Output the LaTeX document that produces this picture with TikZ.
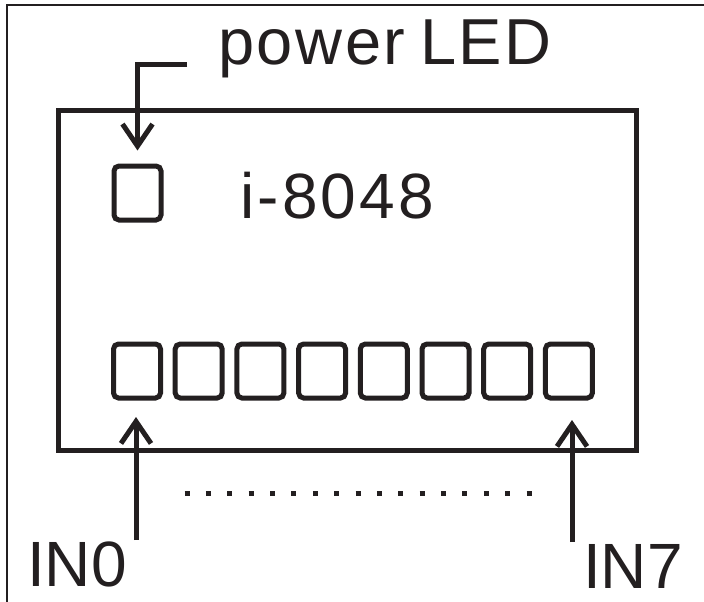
\documentclass[tikz,border=0pt]{standalone}
\usepackage{fontspec}
\setmainfont{Liberation Sans}
\newfontfamily\tracked[LetterSpace=5]{Liberation Sans}
\newfontfamily\trackedtop[LetterSpace=4]{Liberation Sans}
\usepackage{tikz}
\usetikzlibrary{arrows.meta,positioning}
\definecolor{ink}{RGB}{35,31,32}

\begin{document}
\begin{tikzpicture}[x=1pt, y=-1pt,
    board/.style={rectangle, draw=ink, line width=5pt, minimum width=578pt, minimum height=340pt, inner sep=0pt},
    led/.style={rectangle, draw=ink, line width=5pt, rounded corners=5pt, minimum width=47pt, minimum height=54pt, inner sep=0pt},
    label/.style={text=ink, inner sep=0pt, anchor=base west, font=\fontsize{64}{64}\selectfont},
    pin/.style={-{Straight Barb[length=22pt,width=30pt]}, draw=ink, line width=5pt}
]
\useasboundingbox (0,0) rectangle (704,602);

% Frame
\draw[ink, line width=2pt] (7,602) -- (7,5) -- (704,5);

% Module
\node[board] (board) at (347.5, 280.5) {};
\node[label, font=\fontsize{64}{64}\selectfont\tracked] (name) at (240, 218) {i-8048};

% Power LED
\node[led] (pwr) at (137.5, 193) {};
\node[label, font=\fontsize{65}{65}\selectfont\trackedtop] (pwrtext) at (218, 65) {power\hspace{-6pt} LED};
\coordinate (pwrlead) at (187, 65);
\draw[pin, shorten >=13pt] (pwrlead) -| (pwr.north);

% Input LEDs
\foreach \i in {1,...,8}
    \node[led] (in\i) at ({137 + (\i-1)*61.7}, 371) {};

% Input labels
\node[label] (in0text) at (27, 586) {IN0};
\node[label] (in7text) at (583, 588) {IN7};
\coordinate (in0tail) at (136, 540);
\coordinate (in7tail) at (572, 542);
\draw[pin] (in0tail) -- (136, 417);
\draw[pin] (in7tail) -- (572, 420);

% Dots between
\draw[ink, line width=5pt, dash pattern=on 5pt off 16.375pt] (184.5, 493) -- (531.5, 493);

\end{tikzpicture}
\end{document}
